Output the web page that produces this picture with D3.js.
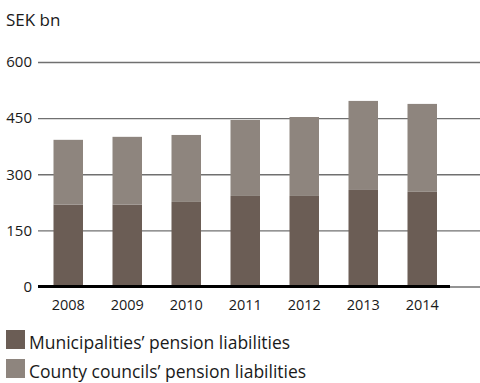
<!DOCTYPE html>
<html>
<head>
<meta charset="utf-8">
<script src="https://cdn.jsdelivr.net/npm/d3@7"></script>
<style>
  html, body { margin: 0; padding: 0; background: #fff; }
  svg { display: block; font-family: "Open Sans", "Noto Sans", sans-serif; }
</style>
</head>
<body>
<svg id="chart" width="480" height="383"></svg>
<script>
// Pension liabilities, SEK bn
const years = ["2008", "2009", "2010", "2011", "2012", "2013", "2014"];
const municipalities = [219, 219, 226, 242, 242, 258, 253];
const countyCouncils = [173, 181, 179, 203, 211, 238, 235];
const yTicks = [0, 150, 300, 450, 600];
const seriesNames = ["Municipalities’ pension liabilities", "County councils’ pension liabilities"];
const seriesColors = ["#6b5d55", "#8e857e"];

const svg = d3.select("#chart");

const y = d3.scaleLinear().domain([0, 600]).range([286.5, 62]);
const x = d3.scaleBand().domain(years).range([24, 466.5]).paddingInner(0.5).paddingOuter(0.5);

// unit label
svg.append("text").attr("x", 6).attr("y", 26)
  .attr("font-size", 17).attr("fill", "#1a1a1a").text("SEK bn");

// gridlines and tick labels
const yAxis = d3.axisLeft(y).tickValues(yTicks).tickSize(-442).tickPadding(6);
const gy = svg.append("g").attr("transform", "translate(38,0)").call(yAxis);
gy.select(".domain").remove();
gy.selectAll(".tick line").attr("stroke", "#707070").attr("stroke-width", 1.3);
gy.selectAll(".tick text").attr("font-size", 15).attr("fill", "#1a1a1a")
  .attr("font-family", "\"Open Sans\", sans-serif");

// stacked bars
const rows = years.map((yr, i) => ({ year: yr, m: municipalities[i], c: countyCouncils[i] }));
const stacked = d3.stack().keys(["m", "c"])(rows);

svg.append("g").selectAll("g").data(stacked).join("g")
  .attr("fill", (d, i) => seriesColors[i])
  .selectAll("rect").data(d => d).join("rect")
  .attr("x", d => x(d.data.year))
  .attr("width", x.bandwidth())
  .attr("y", d => y(d[1]))
  .attr("height", d => y(d[0]) - y(d[1]));

// baseline
svg.append("line").attr("x1", 38).attr("x2", 450)
  .attr("y1", y(0)).attr("y2", y(0))
  .attr("stroke", "#000").attr("stroke-width", 3);

// x axis labels
const xAxis = d3.axisBottom(x).tickSize(0).tickPadding(0);
const gx = svg.append("g").attr("transform", "translate(0,310)").call(xAxis);
gx.select(".domain").remove();
gx.selectAll(".tick text").attr("font-size", 14.5).attr("fill", "#1a1a1a")
  .attr("dy", 0).attr("font-family", "\"Open Sans\", sans-serif");

// legend
const legend = svg.append("g").selectAll("g").data(seriesNames).join("g")
  .attr("transform", (d, i) => `translate(6,${330 + i * 29})`);
legend.append("rect").attr("width", 19).attr("height", 19)
  .attr("fill", (d, i) => seriesColors[i]);
legend.append("text").attr("x", 23).attr("y", 18.5)
  .attr("font-size", 17.5).attr("fill", "#1a1a1a").text(d => d);
</script>
</body>
</html>
